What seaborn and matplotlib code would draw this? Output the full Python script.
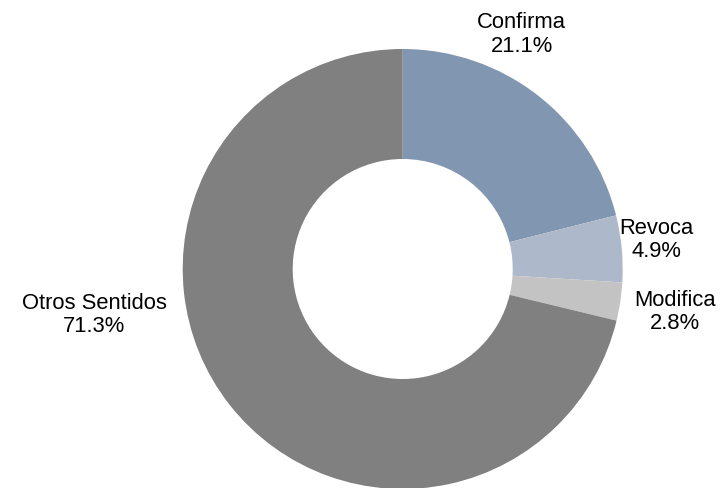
import matplotlib
matplotlib.use("Agg")
import matplotlib.pyplot as plt
import seaborn as sns

categories = ["Confirma", "Revoca", "Modifica", "Otros Sentidos"]
values = [21.1, 4.9, 2.8, 71.3]
colors = ["#8196B0", "#ADB9CB", "#C3C3C3", "#808080"]
label_pos = [(0.540, 1.070), (1.152, 0.136), (1.238, -0.191), (-1.402, -0.205)]

sns.set_theme(style="white")
plt.rcParams["font.family"] = ["Liberation Sans", "DejaVu Sans"]

fig = plt.figure(figsize=(7.23, 4.89), dpi=100)
ax = fig.add_axes([0, 0, 1, 1])
ax.pie(values, colors=colors, startangle=90, counterclock=False,
       radius=1.0, wedgeprops=dict(width=0.5, linewidth=0))
for cat, val, (x, y) in zip(categories, values, label_pos):
    ax.text(x, y, f"{cat}\n{val:.1f}%", ha="center", va="center",
            multialignment="center", fontsize=15.8, linespacing=1.15,
            color="#000000")
ax.set_xlim(-402.7 / 220, (723 - 402.7) / 220)
ax.set_ylim(-(489 - 270) / 220, 270 / 220)
ax.set_aspect("auto")
ax.axis("off")
fig.savefig("out.png", dpi=100)
